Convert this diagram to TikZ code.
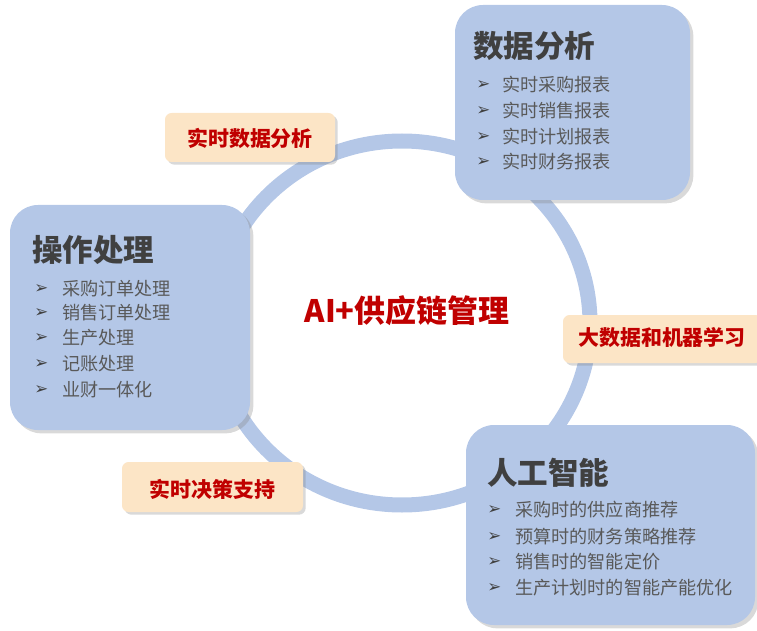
\documentclass[tikz,border=0pt]{standalone}
\usepackage{fontspec}
\newfontfamily\cjk{Noto Sans CJK SC}
\newfontfamily\dv{DejaVu Sans}
\usetikzlibrary{shadows}
\definecolor{boxblue}{RGB}{180,199,231}
\definecolor{ringblue}{RGB}{180,199,231}
\definecolor{peach}{RGB}{252,229,198}
\definecolor{darkred}{RGB}{192,0,0}
\definecolor{titlegray}{RGB}{64,64,64}
\definecolor{itemgray}{RGB}{89,89,89}
\begin{document}
\begin{tikzpicture}[x=0.75pt,y=-0.75pt,
  bigbox/.style={rectangle, rounded corners=21pt, fill=boxblue, draw=none,
    drop shadow={shadow xshift=2.5pt, shadow yshift=-2.5pt, opacity=0.3}},
  tagbox/.style={rectangle, rounded corners=5pt, fill=peach, draw=none,
    drop shadow={shadow xshift=2pt, shadow yshift=-2pt, opacity=0.3}},
  titletext/.style={anchor=west, inner sep=0pt, font=\cjk\bfseries\fontsize{22.9}{26}\selectfont, text=titlegray},
  itemtext/.style={anchor=west, inner sep=0pt, font=\cjk\fontsize{13.6}{16}\selectfont, text=itemgray},
  bul/.style={anchor=west, inner sep=0pt, font=\dv\fontsize{12.5}{14}\selectfont, text=titlegray},
  tagtext/.style={inner sep=0pt, font=\cjk\bfseries\fontsize{15.7}{18}\selectfont, text=darkred},
]
\useasboundingbox (0,0) rectangle (757,631);
% ring
\draw[ringblue, line width=11.25pt] (402,323) ellipse [x radius=141pt, y radius=136.5pt];

% big boxes
\node[bigbox, minimum width=176.25pt, minimum height=146.25pt] (boxA) at (572.5,102.5) {};
\node[bigbox, minimum width=180pt, minimum height=168.75pt] (boxB) at (130,317.5) {};
\node[bigbox, minimum width=216.75pt, minimum height=150pt] (boxC) at (610.5,525) {};

% tag boxes
\node[tagbox, minimum width=127.5pt, minimum height=36.75pt] (tag1) at (250,137.5) {};
\node[tagtext] (tag1t) at (250,138) {实时数据分析};
\node[tagbox, minimum width=149.25pt, minimum height=36pt] (tag2) at (662.5,339) {};
\node[tagtext] (tag2t) at (662,338) {大数据和机器学习};
\node[tagbox, minimum width=135.75pt, minimum height=37.5pt] (tag3) at (212.5,487) {};
\node[tagtext] (tag3t) at (212.5,489) {实时决策支持};

% center
\node[inner sep=0pt, font=\cjk\bfseries\fontsize{23.2}{26}\selectfont, text=darkred] (center) at (407,311) {AI+供应链管理};

% box A
\node[titletext] (tA) at (473,46) {数据分析};
\node[bul] (bA1) at (476,85) {➢}; \node[itemtext] (iA1) at (502,85) {实时采购报表};
\node[bul] (bA2) at (476,111) {➢}; \node[itemtext] (iA2) at (502,111) {实时销售报表};
\node[bul] (bA3) at (476,137) {➢}; \node[itemtext] (iA3) at (502,137) {实时计划报表};
\node[bul] (bA4) at (476,162) {➢}; \node[itemtext] (iA4) at (502,162) {实时财务报表};

% box B
\node[titletext] (tB) at (32,250) {操作处理};
\node[bul] (bB1) at (34,289) {➢}; \node[itemtext] (iB1) at (62,289) {采购订单处理};
\node[bul] (bB2) at (34,313) {➢}; \node[itemtext] (iB2) at (62,313) {销售订单处理};
\node[bul] (bB3) at (34,338) {➢}; \node[itemtext] (iB3) at (62,338) {生产处理};
\node[bul] (bB4) at (34,364) {➢}; \node[itemtext] (iB4) at (62,364) {记账处理};
\node[bul] (bB5) at (34,390) {➢}; \node[itemtext] (iB5) at (62,390) {业财一体化};

% box C
\node[titletext] (tC) at (487,473) {人工智能};
\node[bul] (bC1) at (487,510) {➢}; \node[itemtext] (iC1) at (515,510) {采购时的供应商推荐};
\node[bul] (bC2) at (487,537) {➢}; \node[itemtext] (iC2) at (515,537) {预算时的财务策略推荐};
\node[bul] (bC3) at (487,562) {➢}; \node[itemtext] (iC3) at (515,562) {销售时的智能定价};
\node[bul] (bC4) at (487,588) {➢}; \node[itemtext] (iC4) at (515,588) {生产计划时的智能产能优化};
\end{tikzpicture}
\end{document}
